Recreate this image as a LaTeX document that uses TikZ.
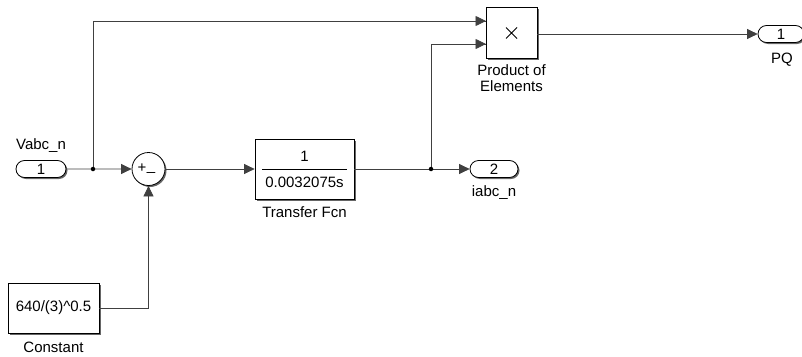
\documentclass[tikz,border=0pt]{standalone}
\usepackage{fontspec}
\setmainfont{Liberation Sans}
\usetikzlibrary{arrows.meta,shapes.misc,shadows,calc}
\begin{document}
\begin{tikzpicture}[x=1pt,y=-1pt,
  blk/.style={draw=black,line width=0.8pt,fill=white,inner sep=0pt,
    drop shadow={shadow xshift=1.5pt,shadow yshift=-1.5pt,opacity=0.6,fill=black}},
  port/.style={blk,rounded rectangle,minimum height=17pt},
  sig/.style={draw=black!75,line width=0.8pt},
  arr/.style={sig,-{Triangle[length=10.5pt,width=10pt]}},
  lbl/.style={font=\fontsize{15}{16.5}\selectfont,inner sep=0pt,align=center},
  txt/.style={font=\fontsize{15}{16}\selectfont},
  dot/.style={circle,fill=black,inner sep=0pt,minimum size=4.5pt}
]
\useasboundingbox (0,0) rectangle (802,356);
% blocks
\node[port,minimum width=50pt,txt,inner sep=0pt] (in1) at (41,169) {1};
\node[lbl] (in1l) at (41,146) {Vabc\_n};
\node[blk,circle,minimum size=33pt] (sum) at (148.5,169) {};
\node[txt,inner sep=0pt] (plus) at (142,168.5) {+};
\node[txt,inner sep=0pt] (minus) at (151,172) {\_};
\node[blk,minimum width=91pt,minimum height=50pt,txt] (const) at (53.5,308) {640/(3)\^{}0.5};
\node[lbl] (constl) at (53.5,347) {Constant};
\node[blk,minimum width=99pt,minimum height=60pt] (tf) at (304.5,169) {};
\node[txt,inner sep=0pt] (num) at (304.5,156) {1};
\node[txt,inner sep=0pt] (den) at (304.5,182.5) {0.0032075s};
\draw[line width=0.8pt] (262,169.5) -- (347,169.5);
\node[lbl] (tfl) at (304.5,212) {Transfer Fcn};
\node[port,minimum width=48pt,txt,inner sep=0pt] (out2) at (494,169) {2};
\node[lbl] (out2l) at (494,193) {iabc\_n};
\node[blk,minimum width=51pt,minimum height=51pt] (prod) at (511.5,33) {};
\draw[line width=0.9pt] (506,27.5) -- (517,38.5) (506,38.5) -- (517,27.5);
\node[lbl] (prodl) at (511.5,78) {Product of\\Elements};
\node[port,minimum width=46pt,txt,inner sep=0pt] (out1) at (781,34) {1};
\node[lbl] (out1l) at (782,60) {PQ};
% connectors
\coordinate (j1) at (93,169);
\coordinate (j2) at (431,169);
\coordinate (p1) at (486,21);
\coordinate (p2) at (486,44);
\coordinate (cs) at (148.5,308);
\draw[arr] (in1) -- (sum);
\draw[sig] (j1) |- (p1);
\draw[arr] (j1 |- p1) -- (p1);
\draw[sig] (const.east) -- (cs);
\draw[arr] (cs) -- (sum.south);
\draw[arr] (sum) -- (tf);
\draw[arr] (tf) -- (out2);
\draw[sig] (j2) |- (p2);
\draw[arr] (j2 |- p2) -- (p2);
\draw[arr] (prod.east |- out1) -- (out1.west);
\node[dot] at (j1) {};
\node[dot] at (j2) {};
\end{tikzpicture}
\end{document}
